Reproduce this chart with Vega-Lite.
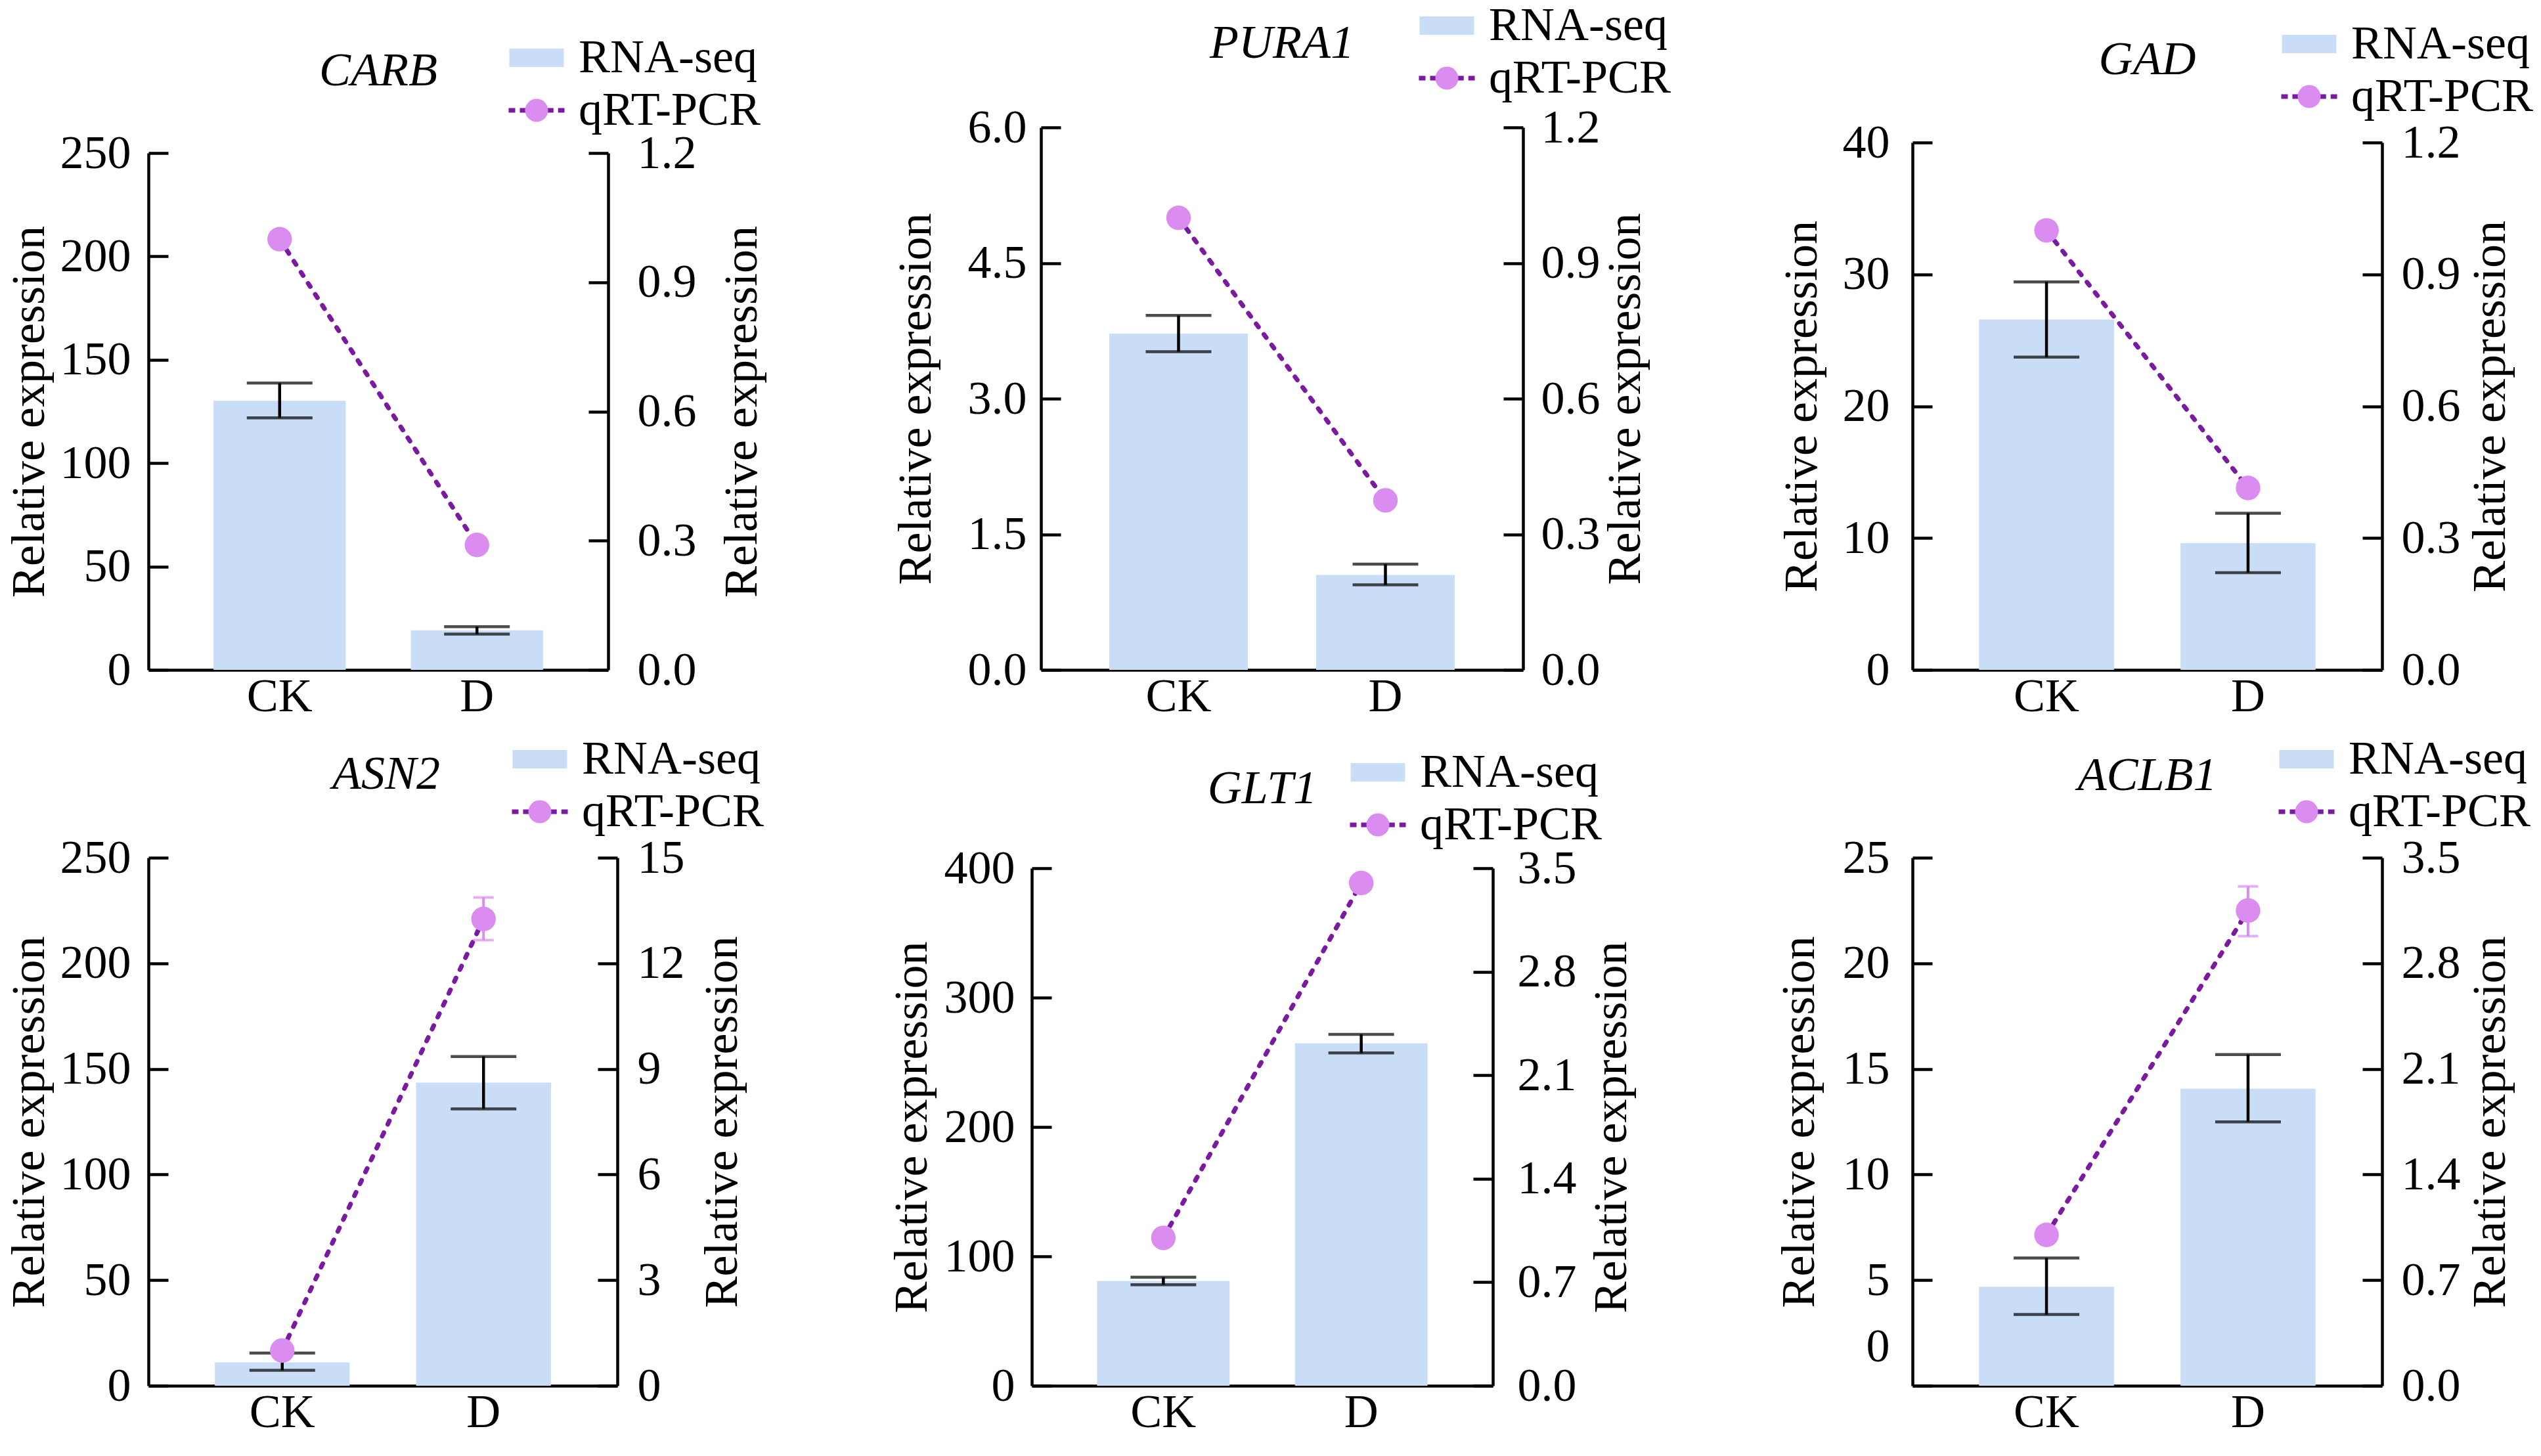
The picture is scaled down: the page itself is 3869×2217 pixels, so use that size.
{
"$schema": "https://vega.github.io/schema/vega-lite/v6.json",
"padding": {"left": 8, "top": 3, "right": 0, "bottom": 0},
"background": "white",
"datasets": {
"CARB": [{"group":"CK","rna":130.2,"rna_lo":121.9,"rna_hi":138.7,"qpcr":1.0},{"group":"D","rna":19.1,"rna_lo":17.3,"rna_hi":20.9,"qpcr":0.29}],
"PURA1": [{"group":"CK","rna":3.72,"rna_lo":3.52,"rna_hi":3.92,"qpcr":1.0},{"group":"D","rna":1.05,"rna_lo":0.94,"rna_hi":1.17,"qpcr":0.375}],
"GAD": [{"group":"CK","rna":26.57,"rna_lo":23.72,"rna_hi":29.43,"qpcr":1.0},{"group":"D","rna":9.62,"rna_lo":7.37,"rna_hi":11.88,"qpcr":0.414}],
"ASN2": [{"group":"CK","rna":11.07,"rna_lo":7.3,"rna_hi":15.5,"qpcr":1.0},{"group":"D","rna":143.5,"rna_lo":131.1,"rna_hi":155.9,"qpcr":13.26,"qpcr_lo":12.66,"qpcr_hi":13.87}],
"GLT1": [{"group":"CK","rna":81.0,"rna_lo":78.1,"rna_hi":83.9,"qpcr":1.0},{"group":"D","rna":264.7,"rna_lo":257.2,"rna_hi":271.6,"qpcr":3.40}],
"ACLB1": [{"group":"CK","rna":4.69,"rna_lo":3.37,"rna_hi":6.05,"qpcr":1.0},{"group":"D","rna":14.06,"rna_lo":12.49,"rna_hi":15.68,"qpcr":3.15,"qpcr_lo":2.98,"qpcr_hi":3.31}]
},
"concat": [
  {"width": 700, "height": 826, "data": {"name": "CARB"}, "title": {"text": "CARB", "offset": -93},
   "encoding": {"x": {"field": "group", "type": "nominal", "sort": ["CK","D"], "scale": {"paddingInner": 0.33, "paddingOuter": 0.33}, "axis": {"title": null}}},
   "layer": [
    {"layer": [
     {"mark": {"type": "bar", "color": "#C9DDF6"}, "encoding": {"y": {"field": "rna", "type": "quantitative", "scale": {"domain": [0, 250], "range": [826, 39], "nice": false}, "axis": {"title": "Relative expression", "values": [0,50,100,150,200,250], "labelPadding": 57, "titlePadding": 10}}}},
     {"mark": {"type": "rule", "color": "#000000", "strokeWidth": 4.5}, "encoding": {"y": {"field": "rna_lo", "type": "quantitative", "scale": {"domain": [0, 250], "range": [826, 39], "nice": false}}, "y2": {"field": "rna_hi"}}},
     {"mark": {"type": "tick", "color": "#000000", "thickness": 4.5, "size": 100}, "encoding": {"y": {"field": "rna_lo", "type": "quantitative", "scale": {"domain": [0, 250], "range": [826, 39], "nice": false}}}},
     {"mark": {"type": "tick", "color": "#000000", "thickness": 4.5, "size": 100}, "encoding": {"y": {"field": "rna_hi", "type": "quantitative", "scale": {"domain": [0, 250], "range": [826, 39], "nice": false}}}}
    ]},
    {"layer": [
     {"mark": {"type": "line", "strokeWidth": 7, "strokeDash": [6, 14], "strokeCap": "round"}, "encoding": {"y": {"field": "qpcr", "type": "quantitative", "scale": {"domain": [0, 1.2], "range": [826, 39], "nice": false}, "axis": {"orient": "right", "title": "Relative expression", "values": [0,0.3,0.6,0.9,1.2], "format": ".1f", "labelPadding": 74, "titlePadding": 34, "titleAngle": 270, "titleBaseline": "top"}}, "stroke": {"datum": "qRT-PCR", "type": "nominal", "scale": {"domain": ["qRT-PCR"], "range": ["#7A1AA0"]}, "legend": {"orient": "none", "legendX": 555, "legendY": -62, "title": null, "symbolType": "M-2.43,0H-0.9M0.9,0H2.43", "symbolSize": 1225, "symbolStrokeWidth": 7, "symbolDash": [10, 7], "symbolFillColor": "transparent", "labelExpr": "''"}}}},
     {"mark": {"type": "point", "filled": true, "opacity": 1, "size": 1400, "strokeWidth": 0}, "encoding": {"y": {"field": "qpcr", "type": "quantitative", "scale": {"domain": [0, 1.2], "range": [826, 39], "nice": false}}, "fill": {"datum": "qRT-PCR", "type": "nominal", "scale": {"domain": ["RNA-seq","qRT-PCR"], "range": ["#C9DDF6","#DA8CF0"]}, "legend": {"orient": "none", "legendX": 555, "legendY": -142, "title": null}}, "shape": {"datum": "qRT-PCR", "type": "nominal", "scale": {"domain": ["RNA-seq","qRT-PCR"], "range": ["M-2.37,-0.8H2.37V0.8H-2.37Z","circle"]}, "legend": {"orient": "none", "legendX": 555, "legendY": -142, "title": null}}}}
    ]}
   ],
   "resolve": {"scale": {"y": "independent"}}},
  {"width": 786, "height": 826, "data": {"name": "PURA1"}, "title": {"text": "PURA1", "offset": -100, "dx": 26},
   "encoding": {"x": {"field": "group", "type": "nominal", "sort": ["CK","D"], "scale": {"paddingInner": 0.33, "paddingOuter": 0.33, "range": [52, 786]}, "axis": {"title": null}}},
   "layer": [
    {"layer": [
     {"mark": {"type": "bar", "color": "#C9DDF6"}, "encoding": {"y": {"field": "rna", "type": "quantitative", "scale": {"domain": [0, 6], "nice": false}, "axis": {"title": "Relative expression", "values": [0,1.5,3,4.5,6], "format": ".1f", "labelPadding": 52, "titlePadding": 42, "offset": -52}}}},
     {"mark": {"type": "rule", "color": "#000000", "strokeWidth": 4.5}, "encoding": {"y": {"field": "rna_lo", "type": "quantitative", "scale": {"domain": [0, 6], "nice": false}}, "y2": {"field": "rna_hi"}}},
     {"mark": {"type": "tick", "color": "#000000", "thickness": 4.5, "size": 100}, "encoding": {"y": {"field": "rna_lo", "type": "quantitative", "scale": {"domain": [0, 6], "nice": false}}}},
     {"mark": {"type": "tick", "color": "#000000", "thickness": 4.5, "size": 100}, "encoding": {"y": {"field": "rna_hi", "type": "quantitative", "scale": {"domain": [0, 6], "nice": false}}}}
    ]},
    {"layer": [
     {"mark": {"type": "line", "strokeWidth": 7, "strokeDash": [6, 14], "strokeCap": "round"}, "encoding": {"y": {"field": "qpcr", "type": "quantitative", "scale": {"domain": [0, 1.2], "nice": false}, "axis": {"orient": "right", "title": "Relative expression", "values": [0,0.3,0.6,0.9,1.2], "format": ".1f", "labelPadding": 57, "titlePadding": 3, "titleAngle": 270, "titleBaseline": "top"}}, "stroke": {"datum": "qRT-PCR", "type": "nominal", "scale": {"domain": ["qRT-PCR"], "range": ["#7A1AA0"]}, "legend": {"orient": "none", "legendX": 634, "legendY": -111, "title": null, "symbolType": "M-2.43,0H-0.9M0.9,0H2.43", "symbolSize": 1225, "symbolStrokeWidth": 7, "symbolDash": [10, 7], "symbolFillColor": "transparent", "labelExpr": "''"}}}},
     {"mark": {"type": "point", "filled": true, "opacity": 1, "size": 1400, "strokeWidth": 0}, "encoding": {"y": {"field": "qpcr", "type": "quantitative", "scale": {"domain": [0, 1.2], "nice": false}}, "fill": {"datum": "qRT-PCR", "type": "nominal", "scale": {"domain": ["RNA-seq","qRT-PCR"], "range": ["#C9DDF6","#DA8CF0"]}, "legend": {"orient": "none", "legendX": 634, "legendY": -191, "title": null}}, "shape": {"datum": "qRT-PCR", "type": "nominal", "scale": {"domain": ["RNA-seq","qRT-PCR"], "range": ["M-2.37,-0.8H2.37V0.8H-2.37Z","circle"]}, "legend": {"orient": "none", "legendX": 634, "legendY": -191, "title": null}}}}
    ]}
   ],
   "resolve": {"scale": {"y": "independent"}}},
  {"width": 715, "height": 826, "data": {"name": "GAD"}, "title": {"text": "GAD", "offset": -97},
   "encoding": {"x": {"field": "group", "type": "nominal", "sort": ["CK","D"], "scale": {"paddingInner": 0.33, "paddingOuter": 0.33}, "axis": {"title": null}}},
   "layer": [
    {"layer": [
     {"mark": {"type": "bar", "color": "#C9DDF6"}, "encoding": {"y": {"field": "rna", "type": "quantitative", "scale": {"domain": [0, 40], "range": [826, 23], "nice": false}, "axis": {"title": "Relative expression", "values": [0,10,20,30,40], "labelPadding": 65, "titlePadding": 25}}}},
     {"mark": {"type": "rule", "color": "#000000", "strokeWidth": 4.5}, "encoding": {"y": {"field": "rna_lo", "type": "quantitative", "scale": {"domain": [0, 40], "range": [826, 23], "nice": false}}, "y2": {"field": "rna_hi"}}},
     {"mark": {"type": "tick", "color": "#000000", "thickness": 4.5, "size": 100}, "encoding": {"y": {"field": "rna_lo", "type": "quantitative", "scale": {"domain": [0, 40], "range": [826, 23], "nice": false}}}},
     {"mark": {"type": "tick", "color": "#000000", "thickness": 4.5, "size": 100}, "encoding": {"y": {"field": "rna_hi", "type": "quantitative", "scale": {"domain": [0, 40], "range": [826, 23], "nice": false}}}}
    ]},
    {"layer": [
     {"mark": {"type": "line", "strokeWidth": 7, "strokeDash": [6, 14], "strokeCap": "round"}, "encoding": {"y": {"field": "qpcr", "type": "quantitative", "scale": {"domain": [0, 1.2], "range": [826, 23], "nice": false}, "axis": {"orient": "right", "title": "Relative expression", "values": [0,0.3,0.6,0.9,1.2], "format": ".1f", "labelPadding": 59, "titlePadding": 10, "titleAngle": 270, "titleBaseline": "top"}}, "stroke": {"datum": "qRT-PCR", "type": "nominal", "scale": {"domain": ["qRT-PCR"], "range": ["#7A1AA0"]}, "legend": {"orient": "none", "legendX": 568, "legendY": -83, "title": null, "symbolType": "M-2.43,0H-0.9M0.9,0H2.43", "symbolSize": 1225, "symbolStrokeWidth": 7, "symbolDash": [10, 7], "symbolFillColor": "transparent", "labelExpr": "''"}}}},
     {"mark": {"type": "point", "filled": true, "opacity": 1, "size": 1400, "strokeWidth": 0}, "encoding": {"y": {"field": "qpcr", "type": "quantitative", "scale": {"domain": [0, 1.2], "range": [826, 23], "nice": false}}, "fill": {"datum": "qRT-PCR", "type": "nominal", "scale": {"domain": ["RNA-seq","qRT-PCR"], "range": ["#C9DDF6","#DA8CF0"]}, "legend": {"orient": "none", "legendX": 568, "legendY": -163, "title": null}}, "shape": {"datum": "qRT-PCR", "type": "nominal", "scale": {"domain": ["RNA-seq","qRT-PCR"], "range": ["M-2.37,-0.8H2.37V0.8H-2.37Z","circle"]}, "legend": {"orient": "none", "legendX": 568, "legendY": -163, "title": null}}}}
    ]}
   ],
   "resolve": {"scale": {"y": "independent"}}},
 {"width": 714, "height": 804, "data": {"name": "ASN2"}, "title": {"text": "ASN2", "offset": -96, "dx": 5},
  "encoding": {"x": {"field": "group", "type": "nominal", "sort": ["CK","D"], "scale": {"paddingInner": 0.33, "paddingOuter": 0.33}, "axis": {"title": null}}},
  "layer": [
   {"layer": [
    {"mark": {"type": "bar", "color": "#C9DDF6"}, "encoding": {"y": {"field": "rna", "type": "quantitative", "scale": {"domain": [0, 250], "nice": false}, "axis": {"title": "Relative expression", "values": [0,50,100,150,200,250], "labelPadding": 57, "titlePadding": 10}}}},
    {"mark": {"type": "rule", "color": "#000000", "strokeWidth": 4.5}, "encoding": {"y": {"field": "rna_lo", "type": "quantitative", "scale": {"domain": [0, 250], "nice": false}}, "y2": {"field": "rna_hi"}}},
    {"mark": {"type": "tick", "color": "#000000", "thickness": 4.5, "size": 100}, "encoding": {"y": {"field": "rna_lo", "type": "quantitative", "scale": {"domain": [0, 250], "nice": false}}}},
    {"mark": {"type": "tick", "color": "#000000", "thickness": 4.5, "size": 100}, "encoding": {"y": {"field": "rna_hi", "type": "quantitative", "scale": {"domain": [0, 250], "nice": false}}}}
   ]},
   {"layer": [
    {"mark": {"type": "line", "strokeWidth": 7, "strokeDash": [6, 14], "strokeCap": "round"}, "encoding": {"y": {"field": "qpcr", "type": "quantitative", "scale": {"domain": [0, 15], "nice": false}, "axis": {"orient": "right", "title": "Relative expression", "values": [0,3,6,9,12,15], "labelPadding": 60, "titlePadding": 22, "titleAngle": 270, "titleBaseline": "top"}}, "stroke": {"datum": "qRT-PCR", "type": "nominal", "scale": {"domain": ["qRT-PCR"], "range": ["#7A1AA0"]}, "legend": {"orient": "none", "legendX": 560, "legendY": -106, "title": null, "symbolType": "M-2.43,0H-0.9M0.9,0H2.43", "symbolSize": 1225, "symbolStrokeWidth": 7, "symbolDash": [10, 7], "symbolFillColor": "transparent", "labelExpr": "''"}}}},
    {"transform": [{"filter": "isValid(datum.qpcr_lo)"}], "mark": {"type": "rule", "color": "#DA8CF0", "strokeWidth": 4}, "encoding": {"y": {"field": "qpcr_lo", "type": "quantitative", "scale": {"domain": [0, 15], "nice": false}}, "y2": {"field": "qpcr_hi"}}},
    {"transform": [{"filter": "isValid(datum.qpcr_lo)"}], "mark": {"type": "tick", "color": "#DA8CF0", "thickness": 4, "size": 31}, "encoding": {"y": {"field": "qpcr_lo", "type": "quantitative", "scale": {"domain": [0, 15], "nice": false}}}},
    {"transform": [{"filter": "isValid(datum.qpcr_hi)"}], "mark": {"type": "tick", "color": "#DA8CF0", "thickness": 4, "size": 31}, "encoding": {"y": {"field": "qpcr_hi", "type": "quantitative", "scale": {"domain": [0, 15], "nice": false}}}},
    {"mark": {"type": "point", "filled": true, "opacity": 1, "size": 1400, "strokeWidth": 0}, "encoding": {"y": {"field": "qpcr", "type": "quantitative", "scale": {"domain": [0, 15], "nice": false}}, "fill": {"datum": "qRT-PCR", "type": "nominal", "scale": {"domain": ["RNA-seq","qRT-PCR"], "range": ["#C9DDF6","#DA8CF0"]}, "legend": {"orient": "none", "legendX": 560, "legendY": -186, "title": null}}, "shape": {"datum": "qRT-PCR", "type": "nominal", "scale": {"domain": ["RNA-seq","qRT-PCR"], "range": ["M-2.37,-0.8H2.37V0.8H-2.37Z","circle"]}, "legend": {"orient": "none", "legendX": 560, "legendY": -186, "title": null}}}}
   ]}
  ],
  "resolve": {"scale": {"y": "independent"}}},
 {"width": 740, "height": 804, "data": {"name": "GLT1"}, "title": {"text": "GLT1", "offset": -98, "dx": 19},
  "encoding": {"x": {"field": "group", "type": "nominal", "sort": ["CK","D"], "scale": {"paddingInner": 0.33, "paddingOuter": 0.33, "range": [38, 740]}, "axis": {"title": null}}},
  "layer": [
   {"layer": [
    {"mark": {"type": "bar", "color": "#C9DDF6"}, "encoding": {"y": {"field": "rna", "type": "quantitative", "scale": {"domain": [0, 400], "range": [804, 16], "nice": false}, "axis": {"title": "Relative expression", "values": [0,100,200,300,400], "labelPadding": 56, "titlePadding": 12, "offset": -38}}}},
    {"mark": {"type": "rule", "color": "#000000", "strokeWidth": 4.5}, "encoding": {"y": {"field": "rna_lo", "type": "quantitative", "scale": {"domain": [0, 400], "range": [804, 16], "nice": false}}, "y2": {"field": "rna_hi"}}},
    {"mark": {"type": "tick", "color": "#000000", "thickness": 4.5, "size": 100}, "encoding": {"y": {"field": "rna_lo", "type": "quantitative", "scale": {"domain": [0, 400], "range": [804, 16], "nice": false}}}},
    {"mark": {"type": "tick", "color": "#000000", "thickness": 4.5, "size": 100}, "encoding": {"y": {"field": "rna_hi", "type": "quantitative", "scale": {"domain": [0, 400], "range": [804, 16], "nice": false}}}}
   ]},
   {"layer": [
    {"mark": {"type": "line", "strokeWidth": 7, "strokeDash": [6, 14], "strokeCap": "round"}, "encoding": {"y": {"field": "qpcr", "type": "quantitative", "scale": {"domain": [0, 3.5], "range": [804, 16], "nice": false}, "axis": {"orient": "right", "title": "Relative expression", "values": [0,0.7,1.4,2.1,2.8,3.5], "format": ".1f", "labelPadding": 67, "titlePadding": 18, "titleAngle": 270, "titleBaseline": "top"}}, "stroke": {"datum": "qRT-PCR", "type": "nominal", "scale": {"domain": ["qRT-PCR"], "range": ["#7A1AA0"]}, "legend": {"orient": "none", "legendX": 529, "legendY": -86, "title": null, "symbolType": "M-2.43,0H-0.9M0.9,0H2.43", "symbolSize": 1225, "symbolStrokeWidth": 7, "symbolDash": [10, 7], "symbolFillColor": "transparent", "labelExpr": "''"}}}},
    {"mark": {"type": "point", "filled": true, "opacity": 1, "size": 1400, "strokeWidth": 0}, "encoding": {"y": {"field": "qpcr", "type": "quantitative", "scale": {"domain": [0, 3.5], "range": [804, 16], "nice": false}}, "fill": {"datum": "qRT-PCR", "type": "nominal", "scale": {"domain": ["RNA-seq","qRT-PCR"], "range": ["#C9DDF6","#DA8CF0"]}, "legend": {"orient": "none", "legendX": 529, "legendY": -166, "title": null}}, "shape": {"datum": "qRT-PCR", "type": "nominal", "scale": {"domain": ["RNA-seq","qRT-PCR"], "range": ["M-2.37,-0.8H2.37V0.8H-2.37Z","circle"]}, "legend": {"orient": "none", "legendX": 529, "legendY": -166, "title": null}}}}
   ]}
  ],
  "resolve": {"scale": {"y": "independent"}}},
 {"width": 715, "height": 804, "data": {"name": "ACLB1"}, "title": {"text": "ACLB1", "offset": -98},
  "encoding": {"x": {"field": "group", "type": "nominal", "sort": ["CK","D"], "scale": {"paddingInner": 0.33, "paddingOuter": 0.33}, "axis": {"title": null}}},
  "layer": [
   {"layer": [
    {"mark": {"type": "bar", "color": "#C9DDF6"}, "encoding": {"y": {"field": "rna", "type": "quantitative", "scale": {"domain": [0, 25], "nice": false}, "axis": {"title": "Relative expression", "values": [0,5,10,15,20,25], "labelPadding": 65, "titlePadding": 29, "labelOffset": {"condition": {"test": "datum.value === 0", "value": -60}, "value": 0}}}}},
    {"mark": {"type": "rule", "color": "#000000", "strokeWidth": 4.5}, "encoding": {"y": {"field": "rna_lo", "type": "quantitative", "scale": {"domain": [0, 25], "nice": false}}, "y2": {"field": "rna_hi"}}},
    {"mark": {"type": "tick", "color": "#000000", "thickness": 4.5, "size": 100}, "encoding": {"y": {"field": "rna_lo", "type": "quantitative", "scale": {"domain": [0, 25], "nice": false}}}},
    {"mark": {"type": "tick", "color": "#000000", "thickness": 4.5, "size": 100}, "encoding": {"y": {"field": "rna_hi", "type": "quantitative", "scale": {"domain": [0, 25], "nice": false}}}}
   ]},
   {"layer": [
    {"mark": {"type": "line", "strokeWidth": 7, "strokeDash": [6, 14], "strokeCap": "round"}, "encoding": {"y": {"field": "qpcr", "type": "quantitative", "scale": {"domain": [0, 3.5], "nice": false}, "axis": {"orient": "right", "title": "Relative expression", "values": [0,0.7,1.4,2.1,2.8,3.5], "format": ".1f", "labelPadding": 59, "titlePadding": 10, "titleAngle": 270, "titleBaseline": "top"}}, "stroke": {"datum": "qRT-PCR", "type": "nominal", "scale": {"domain": ["qRT-PCR"], "range": ["#7A1AA0"]}, "legend": {"orient": "none", "legendX": 564, "legendY": -106, "title": null, "symbolType": "M-2.43,0H-0.9M0.9,0H2.43", "symbolSize": 1225, "symbolStrokeWidth": 7, "symbolDash": [10, 7], "symbolFillColor": "transparent", "labelExpr": "''"}}}},
    {"transform": [{"filter": "isValid(datum.qpcr_lo)"}], "mark": {"type": "rule", "color": "#DA8CF0", "strokeWidth": 4}, "encoding": {"y": {"field": "qpcr_lo", "type": "quantitative", "scale": {"domain": [0, 3.5], "nice": false}}, "y2": {"field": "qpcr_hi"}}},
    {"transform": [{"filter": "isValid(datum.qpcr_lo)"}], "mark": {"type": "tick", "color": "#DA8CF0", "thickness": 4, "size": 31}, "encoding": {"y": {"field": "qpcr_lo", "type": "quantitative", "scale": {"domain": [0, 3.5], "nice": false}}}},
    {"transform": [{"filter": "isValid(datum.qpcr_hi)"}], "mark": {"type": "tick", "color": "#DA8CF0", "thickness": 4, "size": 31}, "encoding": {"y": {"field": "qpcr_hi", "type": "quantitative", "scale": {"domain": [0, 3.5], "nice": false}}}},
    {"mark": {"type": "point", "filled": true, "opacity": 1, "size": 1400, "strokeWidth": 0}, "encoding": {"y": {"field": "qpcr", "type": "quantitative", "scale": {"domain": [0, 3.5], "nice": false}}, "fill": {"datum": "qRT-PCR", "type": "nominal", "scale": {"domain": ["RNA-seq","qRT-PCR"], "range": ["#C9DDF6","#DA8CF0"]}, "legend": {"orient": "none", "legendX": 564, "legendY": -186, "title": null}}, "shape": {"datum": "qRT-PCR", "type": "nominal", "scale": {"domain": ["RNA-seq","qRT-PCR"], "range": ["M-2.37,-0.8H2.37V0.8H-2.37Z","circle"]}, "legend": {"orient": "none", "legendX": 564, "legendY": -186, "title": null}}}}
   ]}
  ],
  "resolve": {"scale": {"y": "independent"}}}
],
"columns": 3,
"align": "none",
"bounds": "flush",
"spacing": {"row": 286, "column": 593},
"resolve": {"scale": {"fill": "independent", "shape": "independent", "stroke": "independent"}, "legend": {"fill": "independent", "shape": "independent", "stroke": "independent"}},
"config": {
 "view": {"stroke": null},
 "font": "Liberation Serif",
 "axis": {"grid": false, "domainColor": "#000000", "domainWidth": 4.5, "tickColor": "#000000", "tickWidth": 4.5, "tickSize": -30, "labelFont": "Liberation Serif", "labelFontSize": 72, "labelColor": "#000000", "titleFont": "Liberation Serif", "titleFontSize": 72, "titleFontWeight": "normal", "titleColor": "#000000"},
 "axisX": {"tickSize": -23, "labelAngle": 0, "labelPadding": 28},
 "legend": {"labelFont": "Liberation Serif", "labelFontSize": 72, "labelColor": "#000000", "labelLimit": 0, "padding": 0, "rowPadding": 8, "labelOffset": 28, "symbolSize": 1225, "symbolStrokeWidth": 0, "symbolOpacity": 1},
 "title": {"font": "Liberation Serif", "fontSize": 72, "fontStyle": "italic", "fontWeight": "normal", "color": "#000000", "anchor": "middle", "frame": "group"}
}
}
